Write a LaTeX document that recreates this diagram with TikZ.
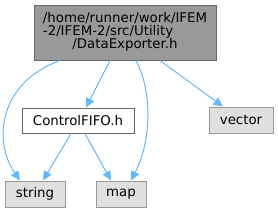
\documentclass[tikz,border=0pt]{standalone}
\usepackage{fontspec}
\setmainfont{DejaVu Sans}
\usepackage{xcolor}
\usetikzlibrary{positioning, arrows.meta}
\definecolor{edgeBlue}{HTML}{63B8FF}
\definecolor{hdrFill}{HTML}{999999}
\definecolor{hdrDraw}{HTML}{666666}
\definecolor{sysFill}{HTML}{E0E0E0}
\definecolor{sysDraw}{HTML}{999999}

\begin{document}
\begin{tikzpicture}[
    x=0.75pt, y=-0.75pt,
    file/.style={rectangle, draw=hdrDraw, line width=0.75pt, inner sep=0pt, font=\fontsize{10}{11}\selectfont},
    sysfile/.style={file, draw=sysDraw, fill=sysFill, minimum height=19.5pt},
    dep/.style={-{Stealth[length=7pt, width=6.5pt, inset=0pt]}, draw=edgeBlue, line width=0.75pt}
]
\useasboundingbox (0,0) rectangle (278,212);

% Nodes
\node[file, fill=hdrFill, minimum width=136.5pt, minimum height=41.25pt] (header) at (125,32.5)
    {\begin{tabular}{@{}l@{}}/home/runner/work/IFEM\\[-1pt]-2/IFEM-2/src/Utility\\[-1pt]\multicolumn{1}{@{}c@{}}{/DataExporter.h}\end{tabular}};
\node[file, fill=white, minimum width=84pt, minimum height=18.75pt] (fifo) at (78,120.5) {ControlFIFO.h};
\node[sysfile, minimum width=48pt] (vec) at (241,120) {vector};
\node[sysfile, minimum width=45pt] (str) at (35,194) {string};
\node[sysfile, minimum width=37.5pt] (map) at (121,194) {map};

% Arrows
\draw[dep] ([xshift=-48.75pt]header.south) .. controls (0,82) and (-8,140) .. ([xshift=-11.25pt]str.north);
\draw[dep] ([xshift=-11.25pt]header.south) -- ([xshift=6pt]fifo.north);
\draw[dep] ([xshift=8.25pt]header.south) .. controls (152,90) and (152,140) .. ([xshift=7.5pt]map.north);
\draw[dep] ([xshift=26.25pt]header.south) -- ([xshift=-13.5pt]vec.north);
\draw[dep] ([xshift=-5.25pt]fifo.south) -- ([xshift=6pt]str.north);
\draw[dep] ([xshift=5.25pt]fifo.south) -- ([xshift=-7.5pt]map.north);
\end{tikzpicture}
\end{document}
